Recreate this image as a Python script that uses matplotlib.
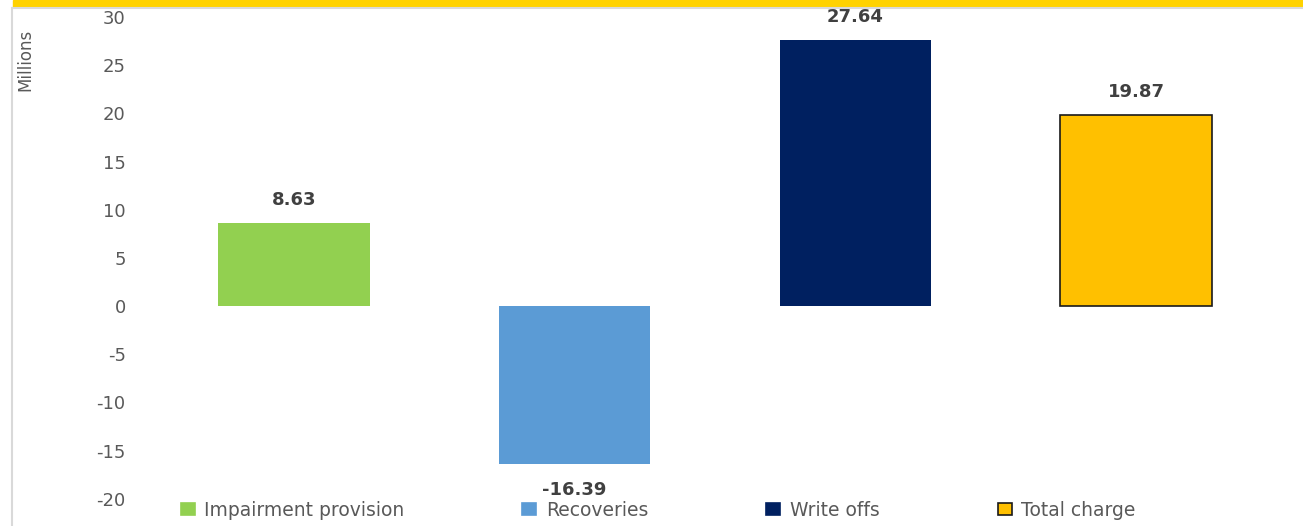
import matplotlib.pyplot as plt
from matplotlib.patches import Patch
from matplotlib.lines import Line2D

plt.rcParams['axes.unicode_minus'] = False

# loan impairment charge components, in millions
categories = ['Impairment provision', 'Recoveries', 'Write offs', 'Total charge']
values = [8.63, -16.39, 27.64, 19.87]
colors = ['#92D050', '#5B9BD5', '#002060', '#FFC000']
edges = ['none', 'none', 'none', '#1a1a1a']
yticks = [-20, -15, -10, -5, 0, 5, 10, 15, 20, 25, 30]

W, H = 1303, 526
fig = plt.figure(figsize=(W / 100, H / 100), dpi=100)
fig.patch.set_facecolor('white')

# top band and thin frame lines
fig.patches.append(plt.Rectangle((13 / W, 1 - 7 / H), 1, 7 / H,
                                 transform=fig.transFigure, color='#FFD200', zorder=0))
fig.add_artist(Line2D([13 / W, 1], [1 - 8 / H, 1 - 8 / H], transform=fig.transFigure,
                      color='#d9d9d9', lw=1.5))
fig.add_artist(Line2D([12 / W, 12 / W], [0, 1 - 8 / H], transform=fig.transFigure,
                      color='#d9d9d9', lw=1.5))

ax = fig.add_axes([153.5 / W, (H - 498.7) / H, 1123 / W, 481.7 / H])
x = range(len(categories))
ax.bar(x, values, width=0.54, color=colors, edgecolor=edges, linewidth=1.2)

for xi, v in zip(x, values):
    if v >= 0:
        ax.annotate(f'{v:.2f}', (xi, v), xytext=(0, 10), textcoords='offset points',
                    ha='center', va='bottom', fontsize=13, fontweight='bold', color='#404040')
    else:
        ax.annotate(f'{v:.2f}', (xi, v), xytext=(0, -12), textcoords='offset points',
                    ha='center', va='top', fontsize=13, fontweight='bold', color='#404040',
                    annotation_clip=False)

ax.set_xlim(-0.5, 3.5)
ax.set_ylim(-20, 30)
ax.set_yticks(yticks)
ax.set_xticks([])
ax.tick_params(axis='y', length=0, pad=20, labelsize=13, labelcolor='#595959')
for s in ax.spines.values():
    s.set_visible(False)

fig.text(25 / W, 1 - 60 / H, 'Millions', rotation=90, ha='center', va='center',
         fontsize=12, color='#595959')

handles = [Patch(facecolor=c, edgecolor=(e if e != 'none' else c), linewidth=1.2)
           for c, e in zip(colors, edges)]
fig.legend(handles, categories, loc='center', bbox_to_anchor=(0.505, (H - 510) / H),
           ncol=4, frameon=False, fontsize=13.5, labelcolor='#595959',
           handlelength=0.75, handleheight=0.65, handletextpad=0.5, columnspacing=6.3)

fig.savefig('out.png', dpi=100)
